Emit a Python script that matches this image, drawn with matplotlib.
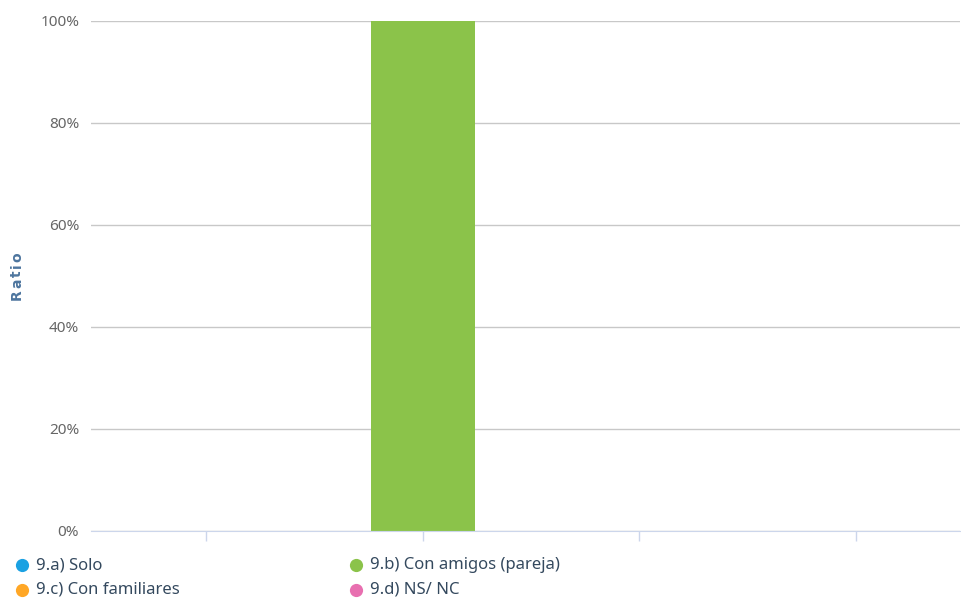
import numpy as np
import matplotlib.pyplot as plt

plt.rcParams['font.family'] = ['Noto Sans', 'DejaVu Sans']

# Series shown in the chart
series = ['9.a) Solo', '9.b) Con amigos (pareja)', '9.c) Con familiares', '9.d) NS/ NC']
values = [0, 100, 0, 0]
colors = ['#1ba1e2', '#8bc34a', '#ffa726', '#e86fb0']
yticks = [0, 20, 40, 60, 80, 100]

W, H = 961, 599
fig = plt.figure(figsize=(W / 100, H / 100), dpi=100)
ax = fig.add_axes([91 / W, (H - 531) / H, (960 - 91) / W, 510 / H])

x = np.arange(len(series))
ax.bar(x, values, width=0.48, color=colors, zorder=3)

ax.set_xlim(-0.531, 3.48)
ax.set_ylim(0, 100)
ax.set_yticks(yticks)
ax.set_yticklabels([f'{v}%' for v in yticks], color='#666666', fontsize=11)
ax.set_xticks(x)
ax.set_xticklabels([])
ax.tick_params(axis='y', length=0, pad=8.5)
ax.tick_params(axis='x', length=7, color='#ccd6eb', width=1)
ax.grid(axis='y', color='#c8c8c8', linewidth=1, zorder=0)
for s in ['top', 'right', 'left']:
    ax.spines[s].set_visible(False)
ax.spines['bottom'].set_color('#ccd6eb')
ax.spines['bottom'].set_zorder(4)

# overlay in pixel coordinates for the axis title and legend
ov = fig.add_axes([0, 0, 1, 1])
ov.set_xlim(0, W)
ov.set_ylim(H, 0)
ov.axis('off')

# spaced-out axis title
title = 'Ratio'
ty = 300
for ch in title:
    ov.text(17, ty, ch, rotation=90, ha='center', va='bottom',
            color='#4d759e', fontsize=10, fontweight='bold', family='DejaVu Sans')
    ty -= {'R': 10.5, 'a': 9.5, 't': 7, 'i': 5, 'o': 9}[ch] + 1.5

# legend laid out in two columns
leg_pos = [(22, 565), (356, 565), (22, 590), (356, 590)]
for (px, py), name, c in zip(leg_pos, series, colors):
    ov.plot(px, py, 'o', color=c, markersize=9.5, markeredgewidth=0)
    ov.text(px + 14, py, name, ha='left', va='center',
            color='#34495e', fontsize=12)

fig.savefig('out.png', dpi=100)
